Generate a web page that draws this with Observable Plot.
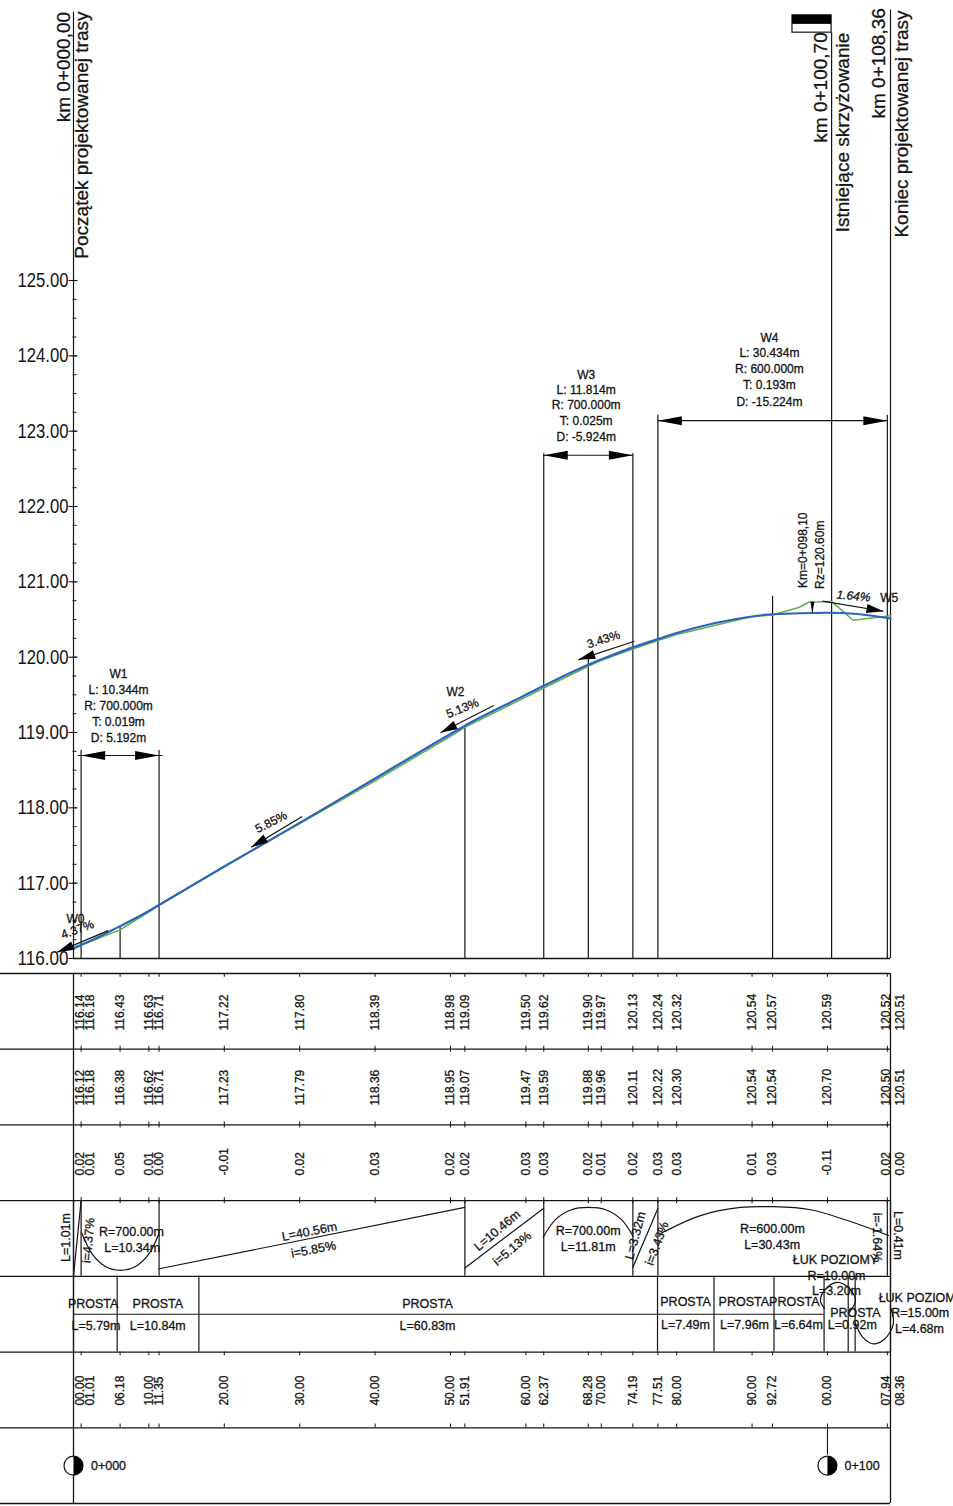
<!DOCTYPE html>
<html lang="pl">
<head>
<meta charset="utf-8">
<title>Profil podłużny</title>
<script src="https://cdn.jsdelivr.net/npm/d3@7"></script>
<script src="https://cdn.jsdelivr.net/npm/@observablehq/plot@0.6"></script>
<style>
html,body{margin:0;padding:0;background:#fff;overflow:hidden}
svg{display:block;overflow:visible;background:transparent}
#page{width:953px;height:1506px}
</style>
</head>
<body>
<div id="page"></div>
<script>
// --- Stations and table rows -------------------------------------------------
const stations = [0,1.01,6.18,10,11.35,20,30,40,50,51.91,60,62.37,68.28,70,74.19,77.51,80,90,92.72,100,107.94,108.36];
const designElev = [116.14,116.18,116.43,116.63,116.71,117.22,117.80,118.39,118.98,119.09,119.50,119.62,119.90,119.97,120.13,120.24,120.32,120.54,120.57,120.59,120.52,120.51];
const terrainElev = [116.12,116.18,116.38,116.62,116.71,117.23,117.79,118.36,118.95,119.07,119.47,119.59,119.88,119.96,120.11,120.22,120.30,120.54,120.54,120.70,120.50,120.51];
const diffLabels = ["0.02","0.01","0.05","0.01","0.00","-0.01","0.02","0.03","0.02","0.02","0.03","0.03","0.02","0.01","0.02","0.03","0.03","0.01","0.03","-0.11","0.02","0.00"];
const stationLabels = ["00.00","01.01","06.18","10.00","11.35","20.00","30.00","40.00","50.00","51.91","60.00","62.37","68.28","70.00","74.19","77.51","80.00","90.00","92.72","00.00","07.94","08.36"];

// Existing-ground line has extra breaks near the crossing
const terrainLine = [[0,116.12],[1.01,116.18],[6.18,116.38],[10,116.62],[11.35,116.71],[20,117.23],[30,117.79],[40,118.36],[50,118.95],[51.91,119.07],[60,119.47],[62.37,119.59],[68.28,119.88],[70,119.96],[74.19,120.11],[77.51,120.22],[80,120.30],[90,120.54],[92.72,120.56],[96.2,120.66],[97.5,120.73],[100.55,120.74],[103.4,120.49],[108.36,120.55]];

// vertical construction lines: station, top elevation
const profileVerticals = [[0,128.56],[1.01,118.76],[6.18,116.43],[11.35,118.76],[51.91,119.09],[62.37,122.70],[68.28,119.97],[74.19,122.70],[77.51,123.21],[92.72,120.81],[100.55,128.29],[107.94,123.21],[108.36,128.59]];

// dimension arrows: station from, station to, elevation, overshoot
const dimensions = [[1.01,11.35,118.695,0.45],[62.37,74.19,122.68,0],[77.51,107.94,123.14,0]];

// slope arrows: tail station, tail elev, tip station, tip elev
const slopeArrows = [[4.6,116.37,-2.16,116.084],[30.33,117.885,23.57,117.477],[55.74,119.358,48.67,118.996],[74.4,120.212,66.94,119.965],[99.34,120.743,107.43,120.61]];

// notes on the profile: text, station, elevation, angle
const profileNotes = [
 ["W1",5.97,119.78,0],["L: 10.344m",5.97,119.56,0],["R: 700.000m",5.97,119.35,0],["T: 0.019m",5.97,119.14,0],["D: 5.192m",5.97,118.93,0],
 ["W3",68.0,123.75,0],["L: 11.814m",68.0,123.55,0],["R: 700.000m",68.0,123.34,0],["T: 0.025m",68.0,123.13,0],["D: -5.924m",68.0,122.92,0],
 ["W4",92.3,124.23,0],["L: 30.434m",92.3,124.03,0],["R: 600.000m",92.3,123.82,0],["T: 0.193m",92.3,123.61,0],["D: -15.224m",92.3,123.39,0],
 ["W0",0.27,116.518,0],["4.37%",0.53,116.385,-20],
 ["5.85%",26.22,117.81,-27],["W2",50.66,119.535,0],["5.13%",51.6,119.32,-22],["3.43%",70.29,120.235,-18],["W5",108.2,120.79,0],
 ["Km=0+098,10",96.8,121.42,-90],["Rz=120.60m",99.07,121.36,-90]
];
const italicNotes = [["1.64%",103.45,120.81,5]];

// big rotated headers: text, station, elevation at the lower end
const headers = [["km 0+000,00",-1.3,127.10],["Początek projektowanej trasy",1.1,125.29],["km 0+100,70",99.1,126.83],["Istniejące skrzyżowanie",102.0,125.64],["km 0+108,36",106.8,127.15],["Koniec projektowanej trasy",109.85,125.57]];

const axisTicks = d3.range(116,126);
const axisMinor = d3.range(116,125.01,0.25);
const flagBlack = [[95.36,100.55,128.40,128.52]];
const flagBox = [[95.36,100.55,128.29,128.52]];
const crossMark = [[98.0,120.74,120.59]];

// table rows
const tableLines = [0,1,2,3,4,5,6,7];
const bandVerticals = [0,1.01,11.35,51.91,62.37,74.19,77.51,107.94,108.36];
const planVerticals = [0,5.79,16.63,77.46,84.95,92.91,99.55,102.75,103.67,108.36];
const gradeLines = [
 [[0,3.997],[1.01,3.0]],
 [[11.35,3.9],[51.91,3.09]],
 [[51.91,3.89],[62.37,3.1]],
 [[74.19,3.88],[77.51,3.104]]
];
const gradeArcs = [
 [[1.06,3.42],[2.52,3.71],[4.24,3.87],[6.23,3.92],[8.22,3.87],[9.95,3.71],[11.27,3.45]],
 [[62.29,3.483],[63.92,3.25],[66.05,3.12],[68.3,3.09],[70.56,3.12],[72.68,3.25],[74.23,3.474]],
 [[77.85,3.435],[83.16,3.197],[88.46,3.09],[92.7,3.08],[97.75,3.12],[103.05,3.276],[108.09,3.46]],
 [[99.6,4.425],[99.07,4.32],[99.73,4.17],[101.32,4.08],[102.9,4.16],[103.7,4.32],[102.8,4.49]],
 [[103.7,4.62],[104.64,4.8],[105.97,4.89],[107.56,4.83],[108.75,4.62],[108.36,4.41]]
];
const tableNotes = [
 ["R=700.00m",7.69,3.408,0],["L=10.34m",7.78,3.62,0],
 ["PROSTA",2.61,4.36,0],["L=5.79m",2.98,4.66,0],["PROSTA",11.18,4.36,0],["L=10.84m",11.18,4.66,0],
 ["PROSTA",46.95,4.36,0],["L=60.83m",46.95,4.66,0],
 ["L=40.56m",31.3,3.41,-11],["i=5.85%",31.83,3.646,-11],
 ["R=600.00m",92.7,3.38,0],["L=30.43m",92.66,3.59,0],
 ["L=10.46m",56.2,3.395,-40],["i=5.13%",58.18,3.633,-40],
 ["R=700.00m",68.26,3.395,0],["L=11.81m",68.26,3.606,0],
 ["L=3.32m",74.54,3.46,-75],["i=3.43%",77.41,3.567,-70],
 ["L=1.01m",-1.06,3.487,-90],["i=4.37%",1.99,3.527,-85],
 ["i=-1.64%",106.6,3.487,90],["L=0.41m",109.4,3.46,90],
 ["PROSTA",81.17,4.34,0],["L=7.49m",81.17,4.64,0],
 ["PROSTA",88.9,4.34,0],["L=7.96m",89.0,4.64,0],
 ["PROSTA",95.6,4.34,0],["L=6.64m",96.15,4.64,0],
 ["ŁUK POZIOMY",101.06,3.778,0],["R=10.00m",101.2,3.99,0],["L=3.20m",101.2,4.19,0],
 ["PROSTA",103.7,4.49,0],["L=0.92m",103.3,4.64,0],
 ["ŁUK POZIOM",111.9,4.28,0],["R=15.00m",112.3,4.49,0],["L=4.68m",112.2,4.69,0],
 ["0+000",4.64,6.5,0],["0+100",104.6,6.5,0]
];
const markers = [0,100];

// --- Shared style ------------------------------------------------------------
const INK = "#141414";
const SANS = "'Liberation Sans',Arial,sans-serif";
const W = 953;
const common = {width:W, marginLeft:73, marginRight:63, x:{domain:[0,108.36],axis:null}, style:{background:"transparent",color:INK}};
const weight = {fill:INK, stroke:INK, strokeWidth:0.3, fontFamily:SANS};
const head = (w=4)=>({draw(c,l){c.moveTo(0,-l);c.lineTo(w,0);c.lineTo(-w,0);c.closePath();}});
const halfDisc = {draw(c,l,r){c.arc(0,0,r,-Math.PI/2,Math.PI/2);c.closePath();}};
const pxS = 7.54, pxE = 75.33;

// --- Profile panel -----------------------------------------------------------
const dimLines = dimensions.map(([a,b,e,o])=>({a:a-o,b:b+o,e}));
const dimHeads = dimensions.flatMap(([a,b,e])=>[{s:a,e,rot:-90},{s:b,e,rot:90}]);
const slopeHeads = slopeArrows.map(([s1,e1,s2,e2])=>({s:s2,e:e2,rot:Math.atan2((s2-s1)*pxS,(e2-e1)*pxE)*180/Math.PI}));

const profile = Plot.plot({...common,
 height:965, marginTop:0, marginBottom:7,
 y:{domain:[116,128.717],axis:null},
 marks:[
  Plot.axisY({ticks:axisTicks,tickFormat:d3.format(".2f"),tickSize:0,tickPadding:5,fontSize:20,fontFamily:SANS,label:null,fill:INK}),
  Plot.link(axisTicks,{x1:()=>-0.66,x2:()=>0.53,y1:d=>d,y2:d=>d,stroke:INK,strokeWidth:1.1}),
  Plot.link(axisMinor,{x1:()=>-0.13,x2:()=>0.4,y1:d=>d,y2:d=>d,stroke:INK,strokeWidth:1}),
  Plot.ruleY([116],{x1:0,x2:108.36,stroke:INK,strokeWidth:1.6}),
  Plot.ruleX(profileVerticals,{x:d=>d[0],y1:()=>116,y2:d=>d[1],stroke:INK,strokeWidth:1.2}),
  Plot.rect(flagBox,{x1:d=>d[0],x2:d=>d[1],y1:d=>d[2],y2:d=>d[3],stroke:INK,fill:"#fff",strokeWidth:1.2}),
  Plot.rect(flagBlack,{x1:d=>d[0],x2:d=>d[1],y1:d=>d[2],y2:d=>d[3],fill:"#000"}),
  Plot.line(terrainLine,{x:d=>d[0],y:d=>d[1],stroke:"#5fb24a",strokeWidth:1.6}),
  Plot.line(stations.map((s,i)=>[s,designElev[i]]),{x:d=>d[0],y:d=>d[1],curve:"monotone-x",stroke:"#2c63c0",strokeWidth:2.2}),
  Plot.link(dimLines,{x1:"a",x2:"b",y1:"e",y2:"e",stroke:INK,strokeWidth:1.1}),
  Plot.vector(dimHeads,{x:"s",y:"e",rotate:"rot",length:24,anchor:"end",shape:head(4.5),fill:"#000",stroke:"none"}),
  Plot.link(slopeArrows,{x1:d=>d[0],y1:d=>d[1],x2:d=>d[2],y2:d=>d[3],stroke:INK,strokeWidth:1.2}),
  Plot.vector(slopeHeads,{x:"s",y:"e",rotate:"rot",length:17,anchor:"end",shape:head(4.5),fill:"#000",stroke:"none"}),
  Plot.link(crossMark,{x1:d=>d[0],x2:d=>d[0],y1:d=>d[1],y2:d=>d[2],stroke:INK,strokeWidth:1.1}),
  Plot.vector(crossMark,{x:d=>d[0],y:d=>d[2],rotate:180,length:11,anchor:"end",shape:head(2),fill:"#000",stroke:"none"}),
  Plot.text(profileNotes,{text:d=>d[0],x:d=>d[1],y:d=>d[2],rotate:d=>d[3],fontSize:12,...weight}),
  Plot.text(italicNotes,{text:d=>d[0],x:d=>d[1],y:d=>d[2],rotate:d=>d[3],fontSize:12,fontStyle:"italic",...weight}),
  Plot.text(headers,{text:d=>d[0],x:d=>d[1],y:d=>d[2],rotate:-90,textAnchor:"start",fontSize:19,...weight})
 ]});

// the drawing's horizontal lettering is narrower than the font: fit the elevation labels
d3.select(profile).selectAll('g[aria-label="y-axis tick label"] text')
  .attr("textLength",51).attr("lengthAdjust","spacingAndGlyphs");

// --- Table panel -------------------------------------------------------------
const labelNudge = s=>s===0?0.93:s===1.01?1.19:s===108.36?1.33:s===107.94?-0.13:0;
const labelX = stations.map(s=>s+labelNudge(s));
const valueRow = (labels,r)=>Plot.text(labels,{text:d=>d,x:(d,i)=>labelX[i],y:()=>r,rotate:-90,textAnchor:"start",fontSize:12,...weight});
const tick = (r1,r2)=>Plot.ruleX(stations.slice(1),{x:d=>d,y1:()=>r1,y2:()=>r2,stroke:INK,strokeWidth:1});
const fmt = d=>d3.format(".2f")(d);

const table = Plot.plot({...common,
 height:541, marginTop:8, marginBottom:3,
 y:{domain:[7,0],axis:null},
 marks:[
  Plot.ruleY(tableLines,{y:d=>d,x1:()=>-9.7,x2:()=>108.36,stroke:INK,strokeWidth:1.3}),
  Plot.ruleX([0],{y1:0,y2:7,stroke:INK,strokeWidth:1.3}),
  Plot.ruleX([108.36],{y1:0,y2:7,stroke:INK,strokeWidth:1.3}),
  tick(0,0.05),tick(0.96,1.04),tick(1.96,2.04),tick(2.96,3.04),tick(5,5.05),tick(5.95,6),
  Plot.ruleX(bandVerticals,{x:d=>d,y1:()=>3,y2:()=>4,stroke:INK,strokeWidth:1.2}),
  Plot.ruleX(planVerticals,{x:d=>d,y1:()=>4,y2:()=>5,stroke:INK,strokeWidth:1.2}),
  Plot.ruleY([4.5],{x1:0,x2:99.55,stroke:INK,strokeWidth:1.1}),
  Plot.ruleX([100],{y1:6,y2:6.36,stroke:INK,strokeWidth:1.1}),
  ...gradeLines.map(p=>Plot.line(p,{x:d=>d[0],y:d=>d[1],stroke:INK,strokeWidth:1.2})),
  ...gradeArcs.map(p=>Plot.line(p,{x:d=>d[0],y:d=>d[1],curve:"catmull-rom",stroke:INK,strokeWidth:1.2})),
  valueRow(designElev.map(fmt),0.753),
  valueRow(terrainElev.map(fmt),1.744),
  valueRow(diffLabels,2.668),
  valueRow(stationLabels,5.707),
  Plot.text(tableNotes,{text:d=>d[0],x:d=>d[1],y:d=>d[2],rotate:d=>d[3],fontSize:12.5,...weight}),
  Plot.dot(markers,{x:d=>d,y:()=>6.5,r:9.5,fill:"#fff",stroke:INK,strokeWidth:1.2}),
  Plot.vector(markers,{x:d=>d,y:()=>6.5,length:1,r:9.5,anchor:"start",shape:halfDisc,fill:"#000",stroke:"none"})
 ]});

document.getElementById("page").append(profile,table);
</script>
</body>
</html>
